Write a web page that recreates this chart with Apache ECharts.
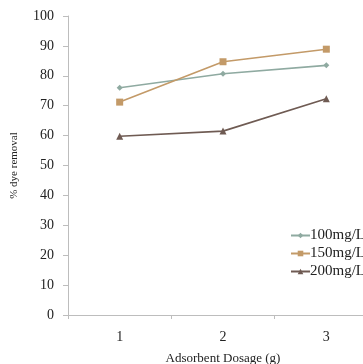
<!DOCTYPE html>
<html>
<head>
<meta charset="utf-8">
<script src="https://cdn.jsdelivr.net/npm/echarts@6/dist/echarts.min.js"></script>
<style>
html,body{margin:0;padding:0;background:#fff;}
#c{width:363px;height:364px;}
</style>
</head>
<body>
<div id="c"></div>
<script>
var categories = ['1', '2', '3'];
var s100 = [76, 80.7, 83.5];
var s150 = [71.2, 84.7, 88.9];
var s200 = [59.8, 61.5, 72.3];
var seriesNames = ['100mg/L', '150mg/L', '200mg/L'];

var font = '"Liberation Serif", "DejaVu Serif", serif';
var chart = echarts.init(document.getElementById('c'));
function mk(name, data, color, symbol, size) {
  return {
    name: name, type: 'line', data: data,
    symbol: symbol, symbolSize: size,
    lineStyle: { color: color, width: 1.6 },
    itemStyle: { color: color },
    animation: false
  };
}
chart.setOption({
  animation: false,
  grid: { left: 68, top: 16, bottom: 49, width: 310, outerBoundsMode: 'none', containLabel: false },
  legend: {
    orient: 'vertical', left: 290, top: 228, padding: 0,
    itemWidth: 19, itemHeight: 7, itemGap: 3,
    textStyle: { fontFamily: font, fontSize: 15, color: '#222', padding: [0,0,0,-5] },
    data: seriesNames
  },
  xAxis: {
    type: 'category', data: categories, boundaryGap: true,
    axisLine: { lineStyle: { color: '#BDBDBD', width: 1 } },
    axisTick: { show: true, length: 4, lineStyle: { color: '#BDBDBD' } },
    axisLabel: { fontFamily: font, fontSize: 14, color: '#222', margin: 15 },
    name: 'Adsorbent Dosage (g)', nameLocation: 'middle', nameGap: 37,
    nameTextStyle: { fontFamily: font, fontSize: 13, color: '#222' }
  },
  yAxis: {
    type: 'value', min: 0, max: 100, interval: 10,
    axisLine: { show: true, lineStyle: { color: '#BDBDBD', width: 1 } },
    axisTick: { show: true, length: 5, lineStyle: { color: '#BDBDBD' } },
    splitLine: { show: false },
    axisLabel: { fontFamily: font, fontSize: 14, color: '#222', margin: 14 },
    name: '% dye removal', nameLocation: 'middle', nameGap: 48, nameRotate: 90,
    nameTextStyle: { fontFamily: font, fontSize: 11, color: '#222' }
  },
  series: [
    mk(seriesNames[0], s100, '#8FAAA1', 'diamond', 6),
    mk(seriesNames[1], s150, '#C39A68', 'rect', 7),
    mk(seriesNames[2], s200, '#6F5B53', 'triangle', 7)
  ]
});
</script>
</body>
</html>
